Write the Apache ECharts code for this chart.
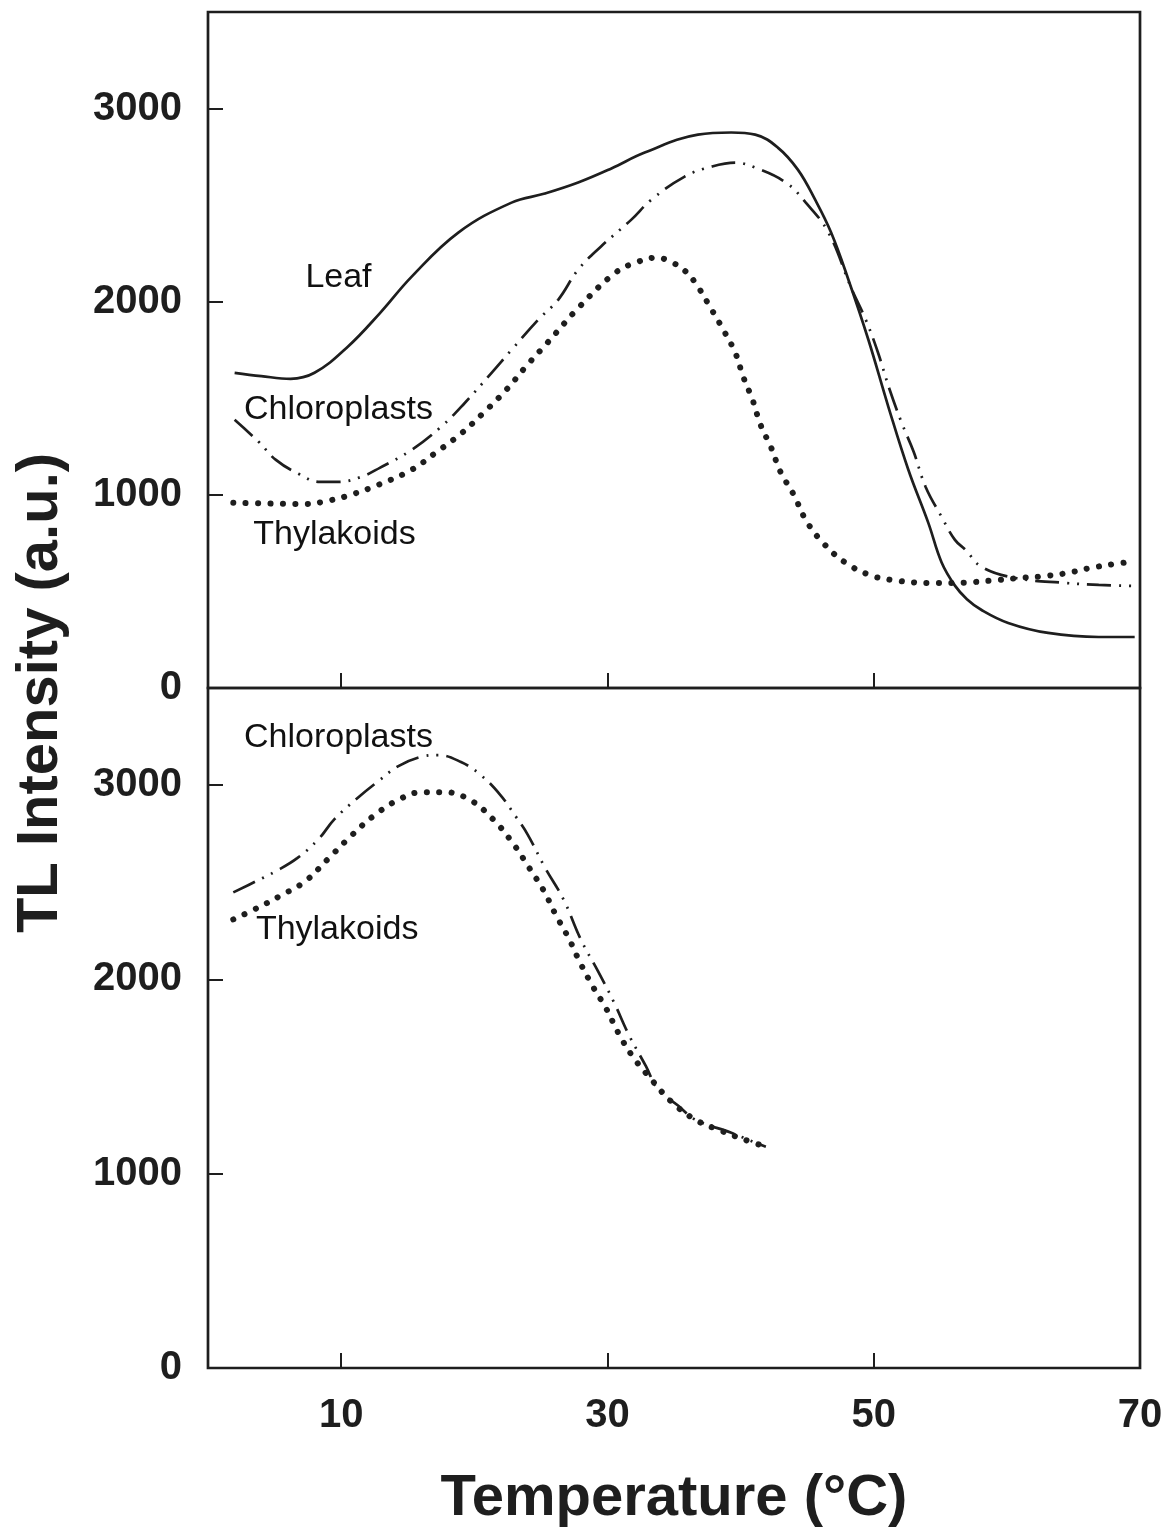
<!DOCTYPE html>
<html>
<head>
<meta charset="utf-8">
<script src="https://cdn.jsdelivr.net/npm/echarts@6/dist/echarts.min.js"></script>
<style>
  html, body { margin: 0; padding: 0; background: #ffffff; }
  #chart { width: 1168px; height: 1531px; }
</style>
</head>
<body>
<div id="chart"></div>
<script>
// Thermoluminescence glow curves: temperature (°C) vs TL intensity (a.u.)
const xTicks = [10, 30, 50, 70];
const yTicks = [0, 1000, 2000, 3000];

// Upper panel
const leafT = [2.0, 4.0, 6.2, 8.0, 10.5, 12.9, 15.3, 18.8, 22.8, 25.3, 27.8, 30.3, 32.8, 36.8, 39.3, 41.1, 42.8, 44.3, 45.6, 46.8, 48.1, 49.6, 51.1, 52.6, 54.1, 55.1, 56.1, 57.0, 58.1, 60.1, 63.1, 66.9, 69.6];
const leafV = [1632, 1615, 1601, 1632, 1767, 1940, 2130, 2358, 2513, 2560, 2617, 2690, 2772, 2865, 2876, 2865, 2798, 2684, 2528, 2358, 2114, 1803, 1456, 1130, 855, 650, 530, 460, 404, 337, 285, 264, 264];

const chloroTopT = [2.0, 3.8, 5.1, 6.8, 8.4, 9.8, 11.5, 12.9, 15.3, 17.5, 19.3, 21.3, 22.8, 24.8, 26.3, 27.8, 29.5, 31.8, 33.3, 35.8, 37.8, 39.6, 41.1, 43.4, 44.9, 46.6, 48.3, 49.4, 50.3, 51.2, 52.1, 53.0, 53.9, 55.1, 56.1, 56.9, 58.1, 60.6, 64.4, 66.9, 69.7];
const chloroTopV = [1389, 1275, 1181, 1109, 1067, 1067, 1093, 1140, 1233, 1352, 1477, 1632, 1751, 1907, 2010, 2166, 2285, 2425, 2528, 2648, 2699, 2720, 2694, 2617, 2513, 2358, 2073, 1907, 1741, 1544, 1373, 1223, 1041, 886, 767, 715, 627, 570, 544, 534, 528];

const thylTopT = [1.9, 7.3, 9.0, 10.7, 12.8, 15.3, 17.1, 18.9, 20.7, 22.4, 24.0, 25.5, 27.9, 30.6, 32.3, 33.7, 34.9, 35.8, 36.6, 37.7, 38.7, 39.6, 40.2, 40.9, 41.5, 42.3, 43.0, 44.0, 44.9, 46.2, 47.9, 49.7, 51.3, 54.1, 55.8, 57.6, 59.4, 61.1, 62.9, 64.6, 66.3, 68.1, 69.3];
const thylTopV = [959, 953, 969, 1000, 1052, 1130, 1218, 1311, 1425, 1544, 1674, 1788, 1974, 2150, 2207, 2228, 2202, 2161, 2098, 1974, 1855, 1736, 1611, 1492, 1363, 1244, 1119, 1000, 870, 751, 648, 585, 560, 544, 544, 549, 560, 570, 580, 596, 622, 642, 653];

// Lower panel
const chloroBotT = [1.9, 3.6, 5.1, 6.7, 8.3, 9.5, 11.3, 12.8, 14.3, 15.9, 17.3, 19.0, 20.4, 21.9, 23.1, 24.0, 25.3, 26.7, 28.0, 29.3, 30.5, 31.6, 32.9, 33.8, 35.3, 36.6, 39.3, 41.1, 41.9];
const chloroBotV = [2448, 2505, 2557, 2624, 2722, 2825, 2938, 3021, 3098, 3144, 3155, 3119, 3057, 2954, 2840, 2747, 2577, 2412, 2206, 2041, 1881, 1716, 1552, 1433, 1351, 1278, 1211, 1160, 1139];

const thylBotT = [1.9, 3.8, 5.5, 7.3, 9.0, 10.8, 12.5, 14.4, 16.1, 17.8, 19.7, 21.4, 22.9, 24.1, 25.2, 26.1, 27.1, 27.9, 28.9, 29.9, 30.8, 31.9, 33.3, 34.8, 36.6, 38.5, 40.1, 41.9];
const thylBotV = [2309, 2371, 2433, 2505, 2619, 2742, 2845, 2928, 2964, 2964, 2923, 2825, 2701, 2577, 2459, 2335, 2211, 2093, 1964, 1851, 1727, 1603, 1485, 1371, 1278, 1222, 1180, 1139];

// Curve labels: [temperature, intensity, text]
const topLabels = [[9.8, 2124, 'Leaf'], [9.8, 1440, 'Chloroplasts'], [9.5, 793, 'Thylakoids']];
const botLabels = [[9.8, 3247, 'Chloroplasts'], [9.7, 2258, 'Thylakoids']];

const INK = '#1e1e1e';
const FONT = '"Liberation Sans", Arial, Helvetica, sans-serif';

function zip(ts, vs) { return ts.map((t, i) => [t, vs[i]]); }

const solidStyle = { color: INK, width: 2.7, type: 'solid' };
const dashDotDot = { color: INK, width: 2.7, type: [24, 8, 2, 8, 2, 8], cap: 'butt' };
const dotted = { color: INK, width: 6, type: [0.1, 12.3], cap: 'round' };

function curve(name, idx, data, style) {
  return {
    name, type: 'line', xAxisIndex: idx, yAxisIndex: idx,
    data, showSymbol: false, symbol: 'none', smooth: 0.4,
    lineStyle: style, silent: true, z: 3
  };
}

function labelSeries(idx, items) {
  return {
    type: 'scatter', xAxisIndex: idx, yAxisIndex: idx, symbolSize: 0, silent: true, z: 5,
    itemStyle: { color: INK, opacity: 1 },
    data: items.map(d => ({ value: [d[0], d[1]], name: d[2] })),
    label: {
      show: true, position: 'inside', formatter: p => p.name,
      fontFamily: FONT, fontSize: 34, color: '#111111', opacity: 1,
      textBorderWidth: 0, textShadowBlur: 0,
      align: 'center', verticalAlign: 'middle'
    }
  };
}

function xAxisCfg(idx, showLabels) {
  return {
    type: 'value', gridIndex: idx, min: 0, max: 70,
    axisLine: { show: false },
    splitLine: { show: false },
    axisTick: { show: true, inside: true, length: 15, customValues: [10, 30, 50], lineStyle: { color: INK, width: 2 } },
    axisLabel: {
      show: showLabels, customValues: xTicks, margin: 28,
      formatter: v => String(v),
      fontFamily: FONT, fontWeight: 'bold', fontSize: 40, color: INK
    }
  };
}

function yAxisCfg(idx) {
  return {
    type: 'value', gridIndex: idx, min: 0, max: 3500,
    axisLine: { show: false },
    splitLine: { show: false },
    axisTick: { show: true, inside: true, length: 15, customValues: yTicks, lineStyle: { color: INK, width: 2 } },
    axisLabel: {
      show: true, customValues: yTicks, margin: 26,
      formatter: v => String(v),
      fontFamily: FONT, fontWeight: 'bold', fontSize: 40, color: INK
    }
  };
}

const chart = echarts.init(document.getElementById('chart'), null, { renderer: 'canvas' });
chart.setOption({
  backgroundColor: '#ffffff',
  animation: false,
  grid: [
    { left: 208, top: 12, width: 932, height: 676, show: true, borderColor: INK, borderWidth: 2.7, backgroundColor: 'transparent' },
    { left: 208, top: 688, width: 932, height: 680, show: true, borderColor: INK, borderWidth: 2.7, backgroundColor: 'transparent' }
  ],
  xAxis: [
    xAxisCfg(0, false),
    Object.assign(xAxisCfg(1, true), {
      name: 'Temperature (°C)', nameLocation: 'middle', nameGap: 102,
      nameTextStyle: { fontFamily: FONT, fontWeight: 'bold', fontSize: 58, color: INK }
    })
  ],
  yAxis: [yAxisCfg(0), yAxisCfg(1)],
  graphic: [{
    type: 'text', x: 41, y: 693, rotation: Math.PI / 2,
    style: {
      text: 'TL Intensity (a.u.)', fontFamily: FONT, fontWeight: 'bold', fontSize: 58,
      fill: INK, align: 'center', verticalAlign: 'middle'
    }
  }],
  series: [
    curve('Leaf', 0, zip(leafT, leafV), solidStyle),
    curve('Chloroplasts', 0, zip(chloroTopT, chloroTopV), dashDotDot),
    curve('Thylakoids', 0, zip(thylTopT, thylTopV), dotted),
    curve('Chloroplasts', 1, zip(chloroBotT, chloroBotV), dashDotDot),
    curve('Thylakoids', 1, zip(thylBotT, thylBotV), dotted),
    labelSeries(0, topLabels),
    labelSeries(1, botLabels)
  ]
});
</script>
</body>
</html>
